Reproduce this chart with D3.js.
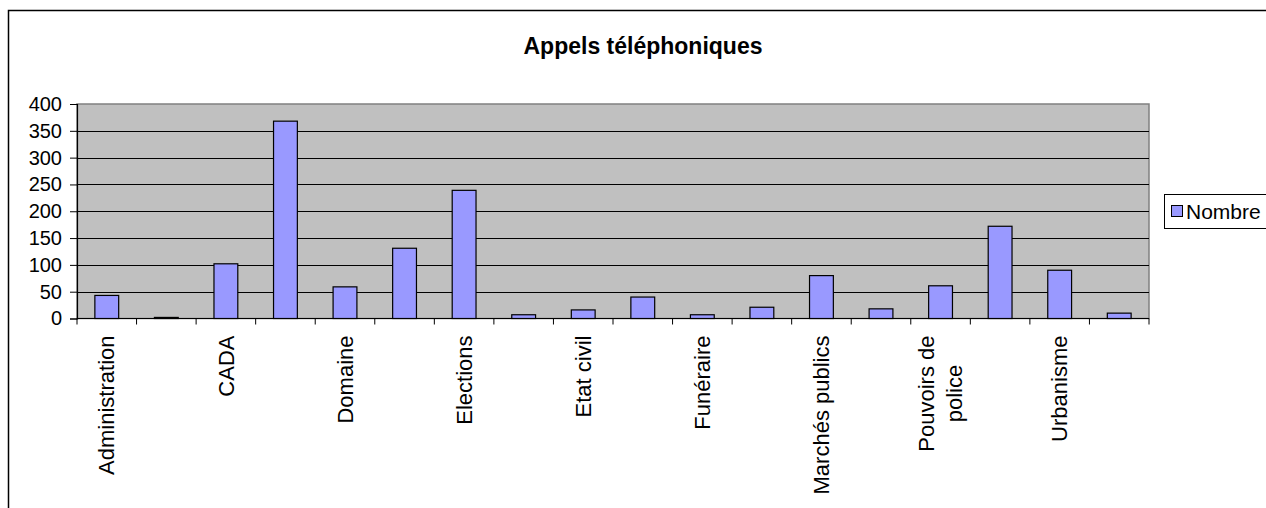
<!DOCTYPE html>
<html>
<head>
<meta charset="utf-8">
<script src="https://cdn.jsdelivr.net/npm/d3@7"></script>
<style>
  body { margin: 0; background: #fff; }
  svg { display: block; font-family: "Liberation Sans", Arial, sans-serif; }
</style>
</head>
<body>
<svg width="1266" height="508"></svg>
<script>
const title = "Appels téléphoniques";
const seriesName = "Nombre";
// hidden labels (Excel skipped every other one) are left empty
const categories = [
  "Administration", "", "CADA", "", "Domaine", "", "Elections", "",
  "Etat civil", "", "Funéraire", "", "Marchés publics", "",
  "Pouvoirs de police", "", "Urbanisme", ""
];
const values = [43, 2, 102, 368, 59, 131, 239, 7, 16, 40, 7, 21, 80, 18, 61, 172, 90, 10];
const yTicks = [0, 50, 100, 150, 200, 250, 300, 350, 400];

const svg = d3.select("svg");

// outer chart frame (runs off the right and bottom edges)
svg.append("rect")
  .attr("x", 8.5).attr("y", 10.5)
  .attr("width", 1300).attr("height", 600)
  .attr("fill", "#fff")
  .attr("stroke", "#000")
  .attr("stroke-width", 1.5);

svg.append("text")
  .attr("x", 643).attr("y", 54)
  .attr("text-anchor", "middle")
  .attr("font-size", 23)
  .attr("font-weight", "bold")
  .text(title);

const plot = { left: 77, right: 1149, top: 104, bottom: 318.5 };

const x = d3.scaleBand()
  .domain(d3.range(categories.length))
  .range([plot.left, plot.right])
  .paddingInner(0.6)
  .paddingOuter(0.3);

const y = d3.scaleLinear()
  .domain([0, 400])
  .range([plot.bottom, plot.top]);

// plot area
svg.append("rect")
  .attr("x", plot.left).attr("y", plot.top)
  .attr("width", plot.right - plot.left)
  .attr("height", plot.bottom - plot.top)
  .attr("fill", "#c0c0c0")
  .attr("stroke", "#808080")
  .attr("stroke-width", 1.5);

// gridlines
svg.append("g")
  .selectAll("line")
  .data(yTicks.filter((d) => d > 0 && d < 400))
  .join("line")
  .attr("x1", plot.left).attr("x2", plot.right)
  .attr("y1", (d) => Math.round(y(d)) + 0.5)
  .attr("y2", (d) => Math.round(y(d)) + 0.5)
  .attr("stroke", "#000");

// bars
svg.append("g")
  .selectAll("rect")
  .data(values)
  .join("rect")
  .attr("x", (d, i) => x(i))
  .attr("y", (d) => y(d))
  .attr("width", x.bandwidth())
  .attr("height", (d) => y(0) - y(d))
  .attr("fill", "#9999ff")
  .attr("stroke", "#000")
  .attr("stroke-width", 1.2);

// y axis
const yAxis = svg.append("g")
  .attr("transform", `translate(${plot.left},0)`)
  .call(d3.axisLeft(y).tickValues(yTicks).tickSize(7).tickPadding(8).tickFormat(d3.format("d")));
yAxis.select(".domain").attr("stroke", "#000").attr("stroke-width", 1.2);
yAxis.selectAll(".tick line").attr("stroke", "#000");
yAxis.selectAll(".tick text")
  .attr("font-size", 20)
  .attr("font-family", "Liberation Sans, Arial, sans-serif")
  .attr("fill", "#000");

// x axis line and ticks at category boundaries
const step = x.step();
const x0 = plot.left;
svg.append("line")
  .attr("x1", plot.left).attr("x2", plot.right)
  .attr("y1", plot.bottom).attr("y2", plot.bottom)
  .attr("stroke", "#000").attr("stroke-width", 1.2);
svg.append("g")
  .selectAll("line")
  .data(d3.range(categories.length + 1))
  .join("line")
  .attr("x1", (i) => x0 + i * step)
  .attr("x2", (i) => x0 + i * step)
  .attr("y1", plot.bottom)
  .attr("y2", plot.bottom + 6)
  .attr("stroke", "#000");

// category labels, rotated
const labels = svg.append("g")
  .selectAll("text")
  .data(categories.map((c, i) => ({ c, i })).filter((d) => d.c))
  .join("text")
  .attr("transform", (d) => `translate(${x(d.i) + x.bandwidth() / 2},${plot.bottom + 17}) rotate(-90)`)
  .attr("font-size", 22)
  .attr("text-anchor", "end");

labels.each(function (d) {
  const t = d3.select(this);
  const lines = d.c === "Pouvoirs de police" ? ["Pouvoirs de", "police"] : [d.c];
  if (lines.length === 1) {
    t.append("tspan").attr("x", 0).attr("dy", "0.35em").text(lines[0]);
  } else {
    // two-line label: block anchored at the top, lines centred on each other
    t.attr("text-anchor", "middle");
    const w = lines[0].length > lines[1].length ? lines[0] : lines[1];
    const tmp = t.append("tspan").text(w);
    const half = this.getComputedTextLength() / 2;
    tmp.remove();
    lines.forEach((ln, k) => {
      t.append("tspan")
        .attr("x", -half)
        .attr("dy", k === 0 ? "-0.32em" : "1.3em")
        .text(ln);
    });
  }
});

// legend
const legend = svg.append("g").attr("transform", "translate(1164,194)");
legend.append("rect")
  .attr("x", 0.5).attr("y", 0.5)
  .attr("width", 120).attr("height", 34)
  .attr("fill", "#fff")
  .attr("stroke", "#000");
legend.append("rect")
  .attr("x", 7.5).attr("y", 11.5)
  .attr("width", 11).attr("height", 11)
  .attr("fill", "#9999ff")
  .attr("stroke", "#000");
legend.append("text")
  .attr("x", 22).attr("y", 25)
  .attr("font-size", 21)
  .text(seriesName);
</script>
</body>
</html>
